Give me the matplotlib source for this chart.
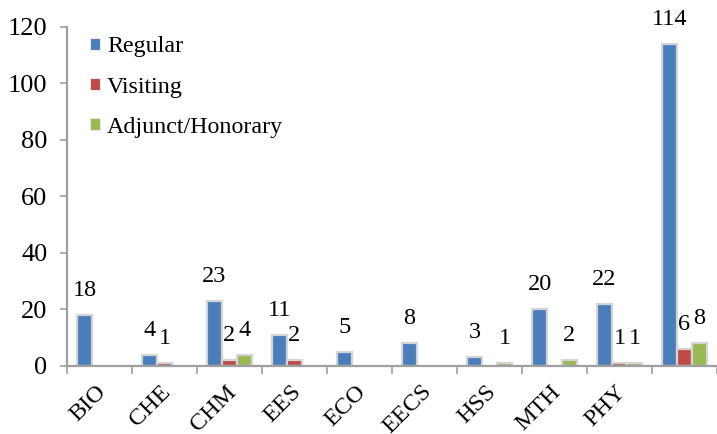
import matplotlib.pyplot as plt
from matplotlib.patches import Patch
from matplotlib.transforms import ScaledTranslation
import numpy as np

plt.rcParams['font.family'] = ['Liberation Serif', 'DejaVu Serif']

# Faculty counts per department (last group is the total, unlabelled)
departments = ['BIO', 'CHE', 'CHM', 'EES', 'ECO', 'EECS', 'HSS', 'MTH', 'PHY', '']
regular = [18, 4, 23, 11, 5, 8, 3, 20, 22, 114]
visiting = [0, 1, 2, 2, 0, 0, 0, 0, 1, 6]
adjunct = [0, 0, 4, 0, 0, 0, 1, 2, 1, 8]

series_names = ['Regular', 'Visiting', 'Adjunct/Honorary']
series_colors = ['#4a7ebb', '#be4b48', '#98b954']

fig = plt.figure(figsize=(7.17, 4.34), dpi=100)
ax = fig.add_axes([0.0934, 0.157, 0.9066, 0.781])

x = np.arange(len(departments))
w = 0.23
offsets = [-0.23, 0.0, 0.23]

for vals, col, off in zip([regular, visiting, adjunct], series_colors, offsets):
    v = np.array(vals, dtype=float)
    bars = ax.bar(x + off, v, width=w, color=col, edgecolor='#d4d4d4', linewidth=1.6)
    for b, val in zip(bars, v):
        if val == 0:
            b.set_visible(False)
            continue
        ax.annotate(f'{int(val)}', (b.get_x() + b.get_width() / 2, val),
                    xytext=(0, 10), textcoords='offset points',
                    ha='center', va='bottom', fontsize=17.5)

ax.set_xlim(-0.5, len(departments) - 0.5)
ax.set_ylim(0, 120)
ax.set_yticks(np.arange(0, 121, 20))
ax.tick_params(axis='y', labelsize=19, length=5, width=1.2, color='#a0a0a0', pad=9)

ax.set_xticks(x)
ax.set_xticklabels(departments, rotation=45, ha='right', rotation_mode='anchor', fontsize=17.5)
ax.tick_params(axis='x', which='major', length=0, pad=11)
shift = ScaledTranslation(-4 / 100, 0, fig.dpi_scale_trans)
for lab in ax.get_xticklabels():
    lab.set_transform(lab.get_transform() + shift)
ax.set_xticks(np.arange(-0.5, len(departments), 1), minor=True)
ax.tick_params(axis='x', which='minor', length=6, width=1.2, color='#a0a0a0')

for s in ['top', 'right']:
    ax.spines[s].set_visible(False)
for s in ['left', 'bottom']:
    ax.spines[s].set_color('#a0a0a0')
    ax.spines[s].set_linewidth(1.6)

handles = [Patch(facecolor=c, edgecolor='#e8e8e8', linewidth=0.8, label=n)
           for c, n in zip(series_colors, series_names)]
ax.legend(handles=handles, loc='upper left', bbox_to_anchor=(0.002, 1.036), frameon=False,
          fontsize=17.3, handlelength=0.42, handleheight=0.42, handletextpad=0.3,
          labelspacing=0.8)

fig.savefig('out.png', dpi=100)
